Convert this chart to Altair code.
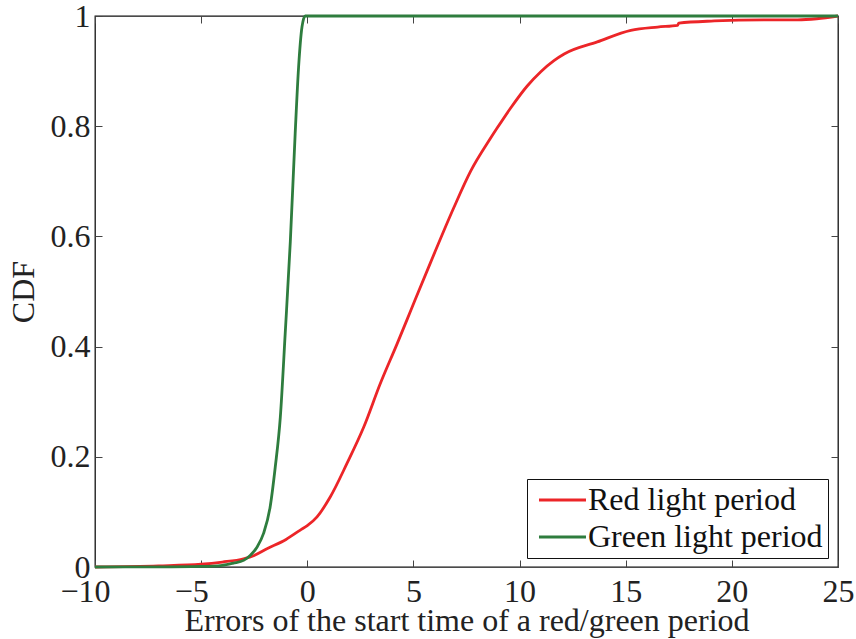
import altair as alt
import pandas as pd

# Red light period CDF
red_x = [-10, -7, -5, -4, -3, -2.5, -1.9, -1, -0.33, 0, 0.46, 1.08, 1.87, 2.66, 3.44, 4.23,
         4.70, 5.09, 5.80, 6.90, 7.69, 8.63, 8.95, 9.58, 10.36, 11.0, 11.62, 12.1, 13.66,
         15.24, 16.5, 17.44, 17.5, 19.17, 21.5, 23.1, 24, 25]
red_y = [0, 0.002, 0.005, 0.009, 0.015, 0.021, 0.033, 0.05, 0.067, 0.075, 0.091, 0.127,
         0.188, 0.254, 0.333, 0.405, 0.449, 0.486, 0.552, 0.652, 0.718, 0.778, 0.797, 0.833,
         0.873, 0.899, 0.919, 0.931, 0.953, 0.974, 0.98, 0.983, 0.987, 0.991, 0.993, 0.993,
         0.995, 1.0]

# Green light period CDF
green_x = [-10, -7, -5, -4, -3.48, -3, -2.69, -2.37, -2.06, -1.75, -1.51, -1.27, -1.04,
           -0.8, -0.57, -0.41, -0.25, -0.1, 0, 25]
green_y = [0, 0.0002, 0.001, 0.003, 0.007, 0.012, 0.021, 0.036, 0.061, 0.109, 0.181,
           0.272, 0.424, 0.59, 0.787, 0.907, 0.98, 1.0, 1.0, 1.0]

series_names = ["Red light period", "Green light period"]
series_colors = ["#EC2528", "#2E7D3E"]
x_ticks = [-10, -5, 0, 5, 10, 15, 20, 25]
y_ticks = [0, 0.2, 0.4, 0.6, 0.8, 1]

rows = []
for i, (x, y) in enumerate(zip(red_x, red_y)):
    rows.append({"series": series_names[0], "x": x, "y": y, "i": i})
for i, (x, y) in enumerate(zip(green_x, green_y)):
    rows.append({"series": series_names[1], "x": x, "y": y, "i": i})
df = pd.DataFrame(rows)

W, H = 743, 551
FONT = "Liberation Serif"
FS = 32
xscale = alt.Scale(domain=[-10, 25], nice=False, zero=False)
yscale = alt.Scale(domain=[0, 1], nice=False)

main = alt.Chart(df).mark_line(strokeWidth=2.8, interpolate="monotone").encode(
    x=alt.X("x:Q", scale=xscale, axis=alt.Axis(
        orient="bottom", values=x_ticks, ticks=False, domain=False, grid=False,
        labelFlush=False,
        labelOffset={"condition": {"test": "datum.value < 0", "value": -10}, "value": 0},
        labelFontSize=FS, labelFont=FONT, labelColor="#222", labelPadding=9,
        title="Errors of the start time of a red/green period", titleFont=FONT,
        titleFontSize=FS, titleFontWeight="normal", titleColor="#222", titlePadding=-2)),
    y=alt.Y("y:Q", scale=yscale, axis=alt.Axis(
        orient="left", values=y_ticks, format="~g", ticks=False, domain=False, grid=False,
        labelFlush=False,
        labelFontSize=FS, labelFont=FONT, labelColor="#222", labelPadding=5,
        title="CDF", titleFont=FONT, titleFontSize=FS, titleFontWeight="normal",
        titleColor="#222", titlePadding=10)),
    color=alt.Color("series:N", scale=alt.Scale(domain=series_names, range=series_colors),
                    legend=alt.Legend(
                        title=None, orient="none", legendX=432, legendY=463,
                        labelFont=FONT, labelFontSize=FS, labelColor="#111",
                        symbolType="M-0.643,0H2.714", symbolSize=784, symbolStrokeWidth=3,
                        labelOffset=24, rowPadding=5, padding=5, strokeColor="#111",
                        fillColor="white", cornerRadius=0, labelLimit=400)),
    order="i:Q",
)

tick_style = dict(labels=False, domain=False, grid=False, ticks=True, tickSize=7,
                  tickColor="#444", tickWidth=1, title=None)

inner_a = alt.Chart(df).mark_line(strokeOpacity=0).encode(
    x=alt.X("x:Q", scale=xscale, axis=alt.Axis(orient="top", offset=-H, values=x_ticks, **tick_style)),
    y=alt.Y("y:Q", scale=yscale, axis=alt.Axis(orient="right", offset=-W, values=y_ticks, **tick_style)),
    detail="series:N",
)
inner_b = alt.Chart(df).mark_line(strokeOpacity=0).encode(
    x=alt.X("x:Q", scale=xscale, axis=alt.Axis(orient="bottom", offset=-H, values=x_ticks, **tick_style)),
    y=alt.Y("y:Q", scale=yscale, axis=alt.Axis(orient="left", offset=-W, values=y_ticks, **tick_style)),
    detail="series:N",
)

chart = alt.layer(inner_a, inner_b, main).resolve_axis(
    x="independent", y="independent"
).properties(
    width=W, height=H,
    padding={"left": 95, "top": 16, "right": 18, "bottom": 72},
    autosize=alt.AutoSizeParams(type="none"),
    background="white",
).configure_view(stroke="#111", strokeWidth=1.3)

chart.save("out.html", embed_options={"renderer": "svg", "actions": False})
